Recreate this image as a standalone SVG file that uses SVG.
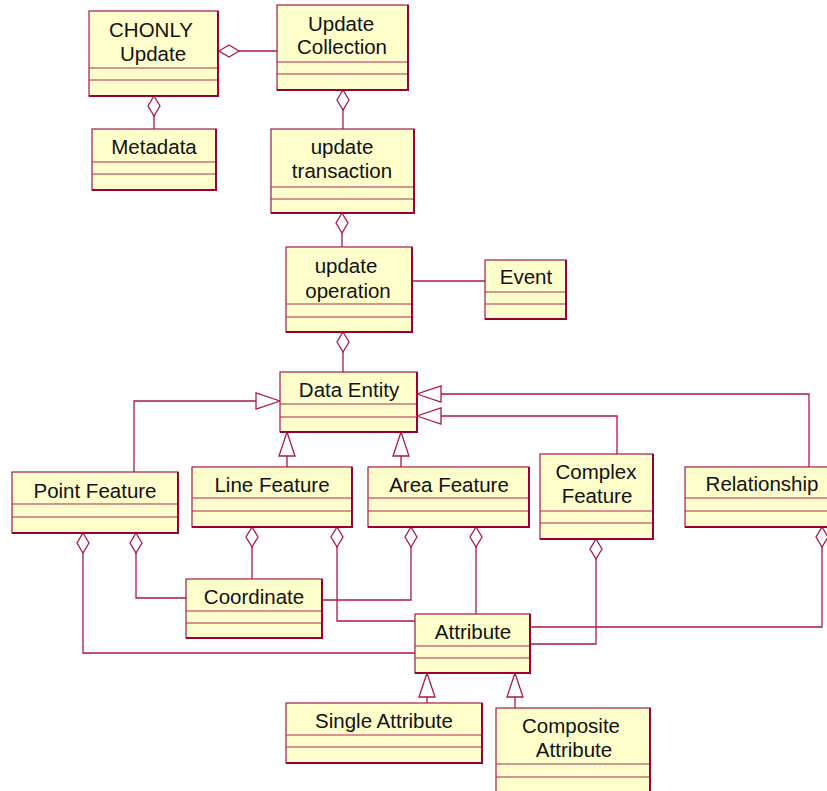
<svg xmlns="http://www.w3.org/2000/svg" width="827" height="791" viewBox="0 0 827 791">
<style>
.box rect{fill:#ffffcc;stroke:#a8184e;stroke-width:1.2}
.box .cl{stroke:#b02858;stroke-width:1.2}
.box .sh{stroke:#990033;stroke-width:2;fill:none}
.box text{font-family:"Liberation Sans",Arial,sans-serif;font-size:20.5px;fill:#111;text-anchor:middle}
.conn path{fill:none;stroke:#a8184e;stroke-width:1.3}
.agg{marker-start:url(#dia)}
.gen{marker-end:url(#tri)}
</style>
<defs>
<marker id="dia" viewBox="-1 -8 23 16" refX="0" refY="0" markerWidth="23" markerHeight="16" markerUnits="userSpaceOnUse" orient="auto">
<path d="M0,0 L10,-6 L20,0 L10,6 Z" fill="#fff" stroke="#a8184e" stroke-width="1.3"/>
</marker>
<marker id="tri" viewBox="-26 -10 28 20" refX="0" refY="0" markerWidth="28" markerHeight="20" markerUnits="userSpaceOnUse" orient="auto">
<path d="M0,0 L-24,-8 L-24,8 Z" fill="#fff" stroke="#a8184e" stroke-width="1.3"/>
</marker>
</defs>
<rect width="827" height="791" fill="#fff"/>
<g id="connectors" class="conn">
<path class="agg" d="M219,51 H277"/>
<path class="agg" d="M154,96 V129"/>
<path class="agg" d="M343,90 V129"/>
<path class="agg" d="M342,213 V247"/>
<path d="M412,281 H485"/>
<path class="agg" d="M343,332 V372"/>
<path class="gen" d="M134,472 V401 H280"/>
<path class="gen" d="M287,467 V432"/>
<path class="gen" d="M401,467 V432"/>
<path class="gen" d="M617,454 V416 H417"/>
<path class="gen" d="M809,467 V394 H417"/>
<path class="agg" d="M83,533 V653 H415"/>
<path class="agg" d="M136,533 V598 H186"/>
<path class="agg" d="M252,527 V579"/>
<path class="agg" d="M337,527 V621 H415"/>
<path class="agg" d="M411,527 V600 H322"/>
<path class="agg" d="M476,527 V614"/>
<path class="agg" d="M596,539 V644 H530"/>
<path class="agg" d="M822,527 V627 H530"/>
<path class="gen" d="M427,703 V673"/>
<path class="gen" d="M515,708 V673"/>
</g>
<g id="chonly-update" class="box">
<rect x="89" y="11" width="129" height="85"/>
<path class="cl" d="M89,68 H218 M89,80 H218"/>
<path class="sh" d="M218,11 V96 H89"/>
<text x="151" y="37">CHONLY</text><text x="153" y="61">Update</text>
</g>
<g id="update-collection" class="box">
<rect x="277" y="5" width="131" height="85"/>
<path class="cl" d="M277,62 H408 M277,74 H408"/>
<path class="sh" d="M408,5 V90 H277"/>
<text x="341" y="31">Update</text><text x="342" y="54">Collection</text>
</g>
<g id="metadata" class="box">
<rect x="92" y="129" width="124" height="61"/>
<path class="cl" d="M92,162 H216 M92,174 H216"/>
<path class="sh" d="M216,129 V190 H92"/>
<text x="154" y="154">Metadata</text>
</g>
<g id="update-transaction" class="box">
<rect x="271" y="129" width="143" height="84"/>
<path class="cl" d="M271,187 H414 M271,199 H414"/>
<path class="sh" d="M414,129 V213 H271"/>
<text x="342" y="154">update</text><text x="342" y="178">transaction</text>
</g>
<g id="update-operation" class="box">
<rect x="286" y="247" width="126" height="85"/>
<path class="cl" d="M286,304 H412 M286,317 H412"/>
<path class="sh" d="M412,247 V332 H286"/>
<text x="346" y="273">update</text><text x="348" y="298">operation</text>
</g>
<g id="event" class="box">
<rect x="485" y="260" width="81" height="59"/>
<path class="cl" d="M485,292 H566 M485,304 H566"/>
<path class="sh" d="M566,260 V319 H485"/>
<text x="526" y="284">Event</text>
</g>
<g id="data-entity" class="box">
<rect x="280" y="372" width="137" height="60"/>
<path class="cl" d="M280,404 H417 M280,417 H417"/>
<path class="sh" d="M417,372 V432 H280"/>
<text x="349" y="397">Data Entity</text>
</g>
<g id="point-feature" class="box">
<rect x="12" y="472" width="166" height="61"/>
<path class="cl" d="M12,504 H178 M12,517 H178"/>
<path class="sh" d="M178,472 V533 H12"/>
<text x="95" y="498">Point Feature</text>
</g>
<g id="line-feature" class="box">
<rect x="192" y="467" width="160" height="60"/>
<path class="cl" d="M192,498 H352 M192,511 H352"/>
<path class="sh" d="M352,467 V527 H192"/>
<text x="272" y="492">Line Feature</text>
</g>
<g id="area-feature" class="box">
<rect x="368" y="467" width="161" height="60"/>
<path class="cl" d="M368,498 H529 M368,511 H529"/>
<path class="sh" d="M529,467 V527 H368"/>
<text x="449" y="492">Area Feature</text>
</g>
<g id="complex-feature" class="box">
<rect x="540" y="454" width="113" height="85"/>
<path class="cl" d="M540,511 H653 M540,523 H653"/>
<path class="sh" d="M653,454 V539 H540"/>
<text x="596" y="479">Complex</text><text x="597" y="503">Feature</text>
</g>
<g id="relationship" class="box">
<rect x="685" y="467" width="146" height="60"/>
<path class="cl" d="M685,498 H831 M685,511 H831"/>
<path class="sh" d="M685,527 H831"/>
<text x="762" y="491">Relationship</text>
</g>
<g id="coordinate" class="box">
<rect x="186" y="579" width="136" height="59"/>
<path class="cl" d="M186,611 H322 M186,623 H322"/>
<path class="sh" d="M322,579 V638 H186"/>
<text x="254" y="604">Coordinate</text>
</g>
<g id="attribute" class="box">
<rect x="415" y="614" width="115" height="59"/>
<path class="cl" d="M415,646 H530 M415,658 H530"/>
<path class="sh" d="M530,614 V673 H415"/>
<text x="473" y="639">Attribute</text>
</g>
<g id="single-attribute" class="box">
<rect x="286" y="703" width="196" height="60"/>
<path class="cl" d="M286,735 H482 M286,747 H482"/>
<path class="sh" d="M482,703 V763 H286"/>
<text x="384" y="728">Single Attribute</text>
</g>
<g id="composite-attribute" class="box">
<rect x="496" y="708" width="154" height="90"/>
<path class="cl" d="M496,764 H650 M496,777 H650"/>
<path class="sh" d="M650,708 V798"/>
<text x="571" y="733">Composite</text><text x="574" y="757">Attribute</text>
</g>
</svg>
